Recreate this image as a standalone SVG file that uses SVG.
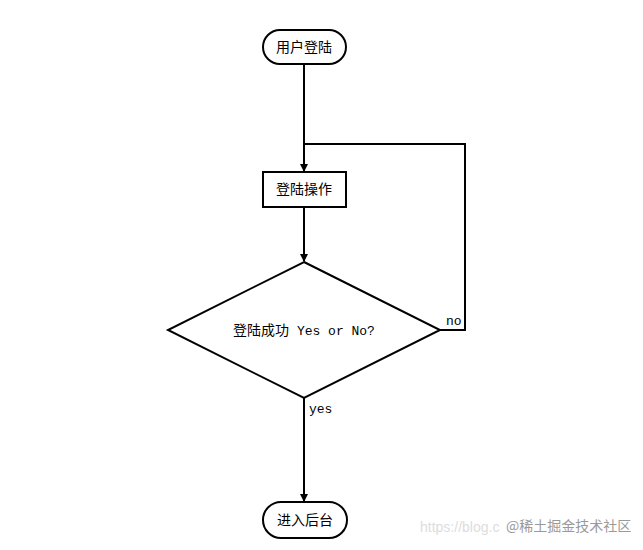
<svg xmlns="http://www.w3.org/2000/svg" width="643" height="550" viewBox="0 0 643 550">
<style>
.s{fill:#fff;stroke:#000;stroke-width:2}
.t{font-family:"Noto Sans CJK SC","Liberation Sans",sans-serif;font-size:14px;fill:#000;text-anchor:middle}
.m{font-family:"Liberation Mono","Noto Sans CJK SC",monospace;font-size:13px;fill:#000}
.c{fill:none;stroke:#000;stroke-width:2}
</style>
<defs><marker id="a" markerWidth="8" markerHeight="8" refX="7" refY="4" orient="auto" markerUnits="userSpaceOnUse"><path d="M0,0 L8,4 L0,8 z" fill="#000"/></marker></defs>
<rect width="643" height="550" fill="#fff"/>
<g id="edges">
<path class="c" d="M304,64 V171" marker-end="url(#a)"/>
<path class="c" d="M440,330 H465 V144 H304"/>
<path class="c" d="M304,207 V261" marker-end="url(#a)"/>
<path class="c" d="M304,398 V501" marker-end="url(#a)"/>
<text class="m" x="446" y="325">no</text>
<text class="m" x="309" y="413">yes</text>
</g>
<g id="start"><rect class="s" x="263" y="30" width="83" height="34" rx="17"/><text class="t" x="304" y="52">用户登陆</text></g>
<g id="op"><rect class="s" x="263" y="172" width="83" height="35"/><text class="t" x="304" y="194">登陆操作</text></g>
<g id="decision"><path class="s" d="M304,262 L440,330 L304,398 L168,330 z"/><text x="304" y="335" text-anchor="middle" font-size="14"><tspan font-family="Noto Sans CJK SC,sans-serif">登陆成功</tspan><tspan font-family="Liberation Mono,monospace" font-size="13"> Yes or No?</tspan></text></g>
<g id="end"><rect class="s" x="263" y="502" width="84" height="36" rx="18"/><text class="t" x="305" y="525">进入后台</text></g>
<text x="420" y="532" font-family="Liberation Sans,sans-serif" font-size="14" fill="#ddd">https://blog.c</text>
<text x="506" y="531" font-family="Noto Sans CJK SC,sans-serif" font-size="14" fill="#999">@稀土掘金技术社区</text>
</svg>
